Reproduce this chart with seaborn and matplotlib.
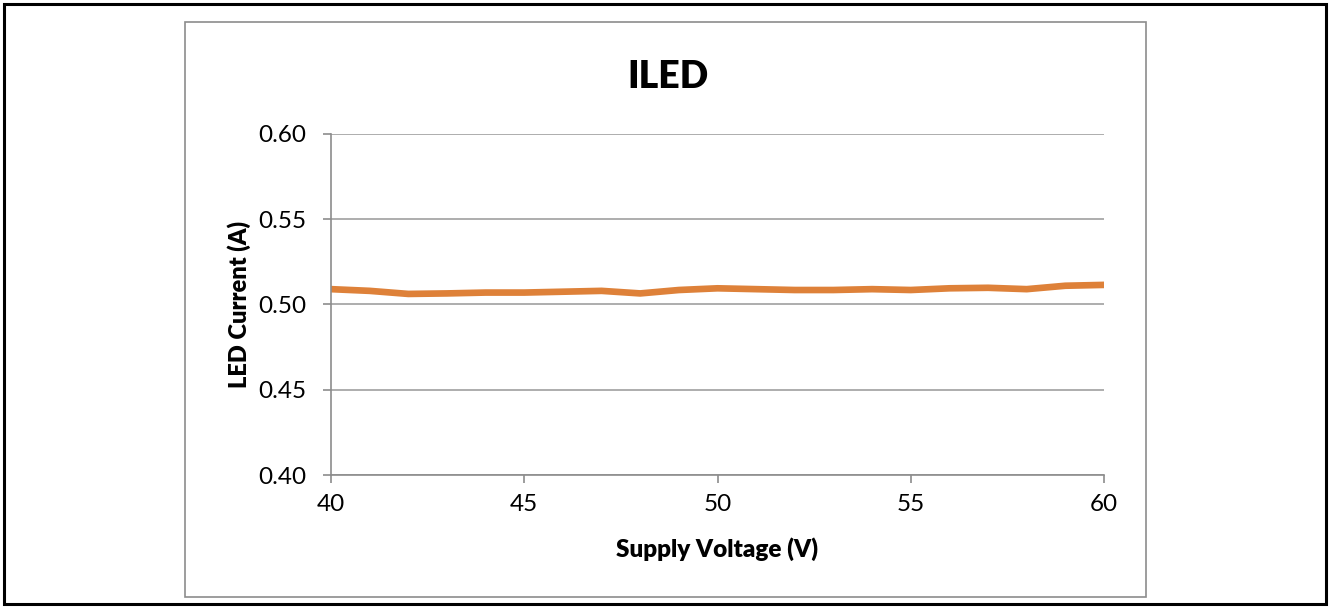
import matplotlib
matplotlib.use("Agg")
import matplotlib.pyplot as plt
import seaborn as sns
import pandas as pd
from matplotlib.patches import Rectangle

# Values
voltage = [40, 41, 42, 43, 44, 45, 46, 47, 48, 49, 50,
           51, 52, 53, 54, 55, 56, 57, 58, 59, 60]
current = [0.509, 0.508, 0.5062, 0.5065, 0.507, 0.507, 0.5075, 0.508, 0.5065, 0.5085, 0.5095,
           0.509, 0.5085, 0.5085, 0.509, 0.5085, 0.5095, 0.5098, 0.509, 0.511, 0.5115]
x_ticks = [40, 45, 50, 55, 60]
y_ticks = [0.40, 0.45, 0.50, 0.55, 0.60]

df = pd.DataFrame({"Supply Voltage (V)": voltage, "LED Current (A)": current})

sns.set_style("white")
plt.rcParams['font.family'] = ['Lato', 'DejaVu Sans']
plt.rcParams['text.color'] = 'black'
plt.rcParams['axes.labelcolor'] = 'black'
plt.rcParams['xtick.color'] = 'black'
plt.rcParams['ytick.color'] = 'black'

fig = plt.figure(figsize=(13.3, 6.08), dpi=100)
ax = fig.add_axes([331 / 1330, 1 - 475 / 608, (1104 - 331) / 1330, (475 - 134) / 608])

# outer black frame and inner grey chart frame
fig.patches.append(Rectangle((4 / 1330, 4 / 608), 1322 / 1330, 600 / 608, transform=fig.transFigure,
                             fill=False, edgecolor="black", linewidth=2.2))
fig.patches.append(Rectangle((185 / 1330, 1 - 597 / 608), 961 / 1330, 575 / 608, transform=fig.transFigure,
                             fill=False, edgecolor="#8c8c8c", linewidth=1.2))

sns.lineplot(data=df, x="Supply Voltage (V)", y="LED Current (A)", ax=ax,
             color="#DE8139", linewidth=4.8)

ax.set_xlim(40, 60)
ax.set_ylim(0.40, 0.60)
ax.set_xticks(x_ticks)
ax.set_yticks(y_ticks)
ax.set_xticklabels([str(t) for t in x_ticks])
ax.set_yticklabels([f"{t:.2f}" for t in y_ticks])
ax.grid(axis="y", color="#a0a0a0", linewidth=1.2)
ax.set_axisbelow(True)

for side in ["top", "right"]:
    ax.spines[side].set_visible(False)
for side in ["left", "bottom"]:
    ax.spines[side].set_color("#8c8c8c")
    ax.spines[side].set_linewidth(1.2)

ax.tick_params(axis="both", which="major", length=6, width=1.2, color="#8c8c8c",
               labelcolor="black", labelsize=17.5, direction="out", bottom=True, left=True)
ax.tick_params(axis="y", pad=12)
ax.tick_params(axis="x", pad=8)

ax.set_xlabel("Supply Voltage (V)", fontsize=17.5, fontweight="heavy", labelpad=16)
ax.set_ylabel("LED Current (A)", fontsize=17, fontweight="heavy", labelpad=5)
fig.text(668 / 1330, 1 - 77 / 608, "ILED", fontsize=27, fontweight="heavy", ha="center", va="center")

fig.savefig("out.png", dpi=100)
